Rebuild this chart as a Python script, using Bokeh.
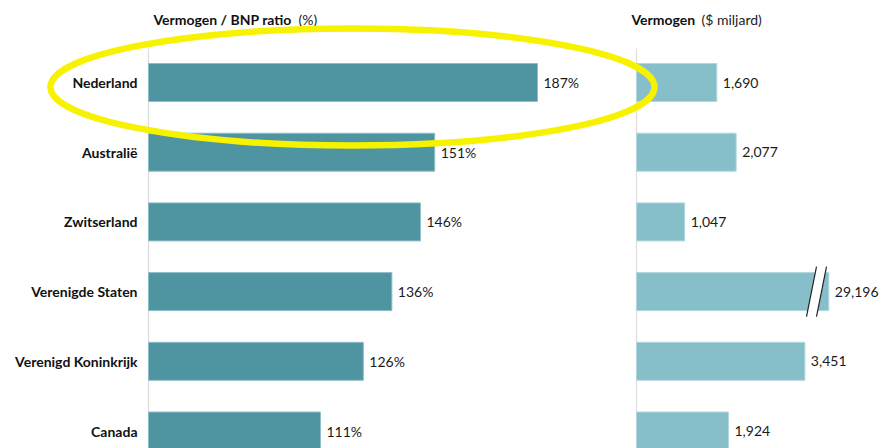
from bokeh.plotting import figure
from bokeh.models import Range1d
from bokeh.core.properties import value
from bokeh.embed import file_html
from bokeh.resources import INLINE

countries = ["Nederland", "Australië", "Zwitserland", "Verenigde Staten",
             "Verenigd Koninkrijk", "Canada"]
ratio = [187, 151, 146, 136, 126, 111]
vermogen = [1690, 2077, 1047, 29196, 3451, 1924]
ratio_labels = [f"{v}%" for v in ratio]
vermogen_labels = [f"{v:,}" for v in vermogen]
VERM_CAP = 3930          # displayed length of the broken (truncated) bar
RATIO_BASE = 50.75       # left panel axis baseline (truncated axis)
VERM_BASE = 84           # right panel axis baseline

idx = list(range(len(countries)))
verm_disp = [min(v, VERM_CAP) for v in vermogen]

FONT = value("Lato")
BAR_H = 0.545

p = figure(width=879, height=448,
           x_range=Range1d(-1.086, 306.8), y_range=Range1d(5.251, -1.1765),
           x_axis_type=None, y_axis_type=None,
           toolbar_location=None, output_backend="svg",
           min_border=0, outline_line_color=None,
           background_fill_color="white", border_fill_color="white")
p.extra_x_ranges = {"verm": Range1d(-12636, 4944)}
p.grid.visible = False

# axis lines
p.segment(x0=[RATIO_BASE], y0=[-0.488], x1=[RATIO_BASE], y1=[5.3],
          line_color="#dcdcdc", line_width=1.2)
p.segment(x0=[VERM_BASE], y0=[-0.488], x1=[VERM_BASE], y1=[5.3],
          line_color="#dcdcdc", line_width=1.2, x_range_name="verm")

# bars
p.hbar(y=idx, left=RATIO_BASE, right=ratio, height=BAR_H,
       fill_color="#4e94a1", line_color="#8fbec7", line_width=1)
p.hbar(y=idx, left=VERM_BASE, right=verm_disp, height=BAR_H,
       fill_color="#86bfca", line_color="#b2d7de", line_width=1,
       x_range_name="verm")

# break marks on the truncated bar
bi = vermogen.index(max(vermogen))
p.patch(x=[3684, 3884, 3684, 3484], y=[bi - 0.36, bi - 0.36, bi + 0.36, bi + 0.36],
        fill_color="white", line_color=None, x_range_name="verm")
p.segment(x0=[3684, 3884], y0=[bi - 0.36, bi - 0.36],
          x1=[3484, 3684], y1=[bi + 0.36, bi + 0.36],
          line_color="#222222", line_width=1.2, x_range_name="verm")

# value labels
p.text(x=ratio, y=idx, text=ratio_labels, x_offset=6, text_baseline="middle",
       text_font=FONT, text_font_size="14px", text_color="#1a1a1a")
p.text(x=verm_disp, y=idx, text=vermogen_labels, x_offset=6, text_baseline="middle",
       text_font=FONT, text_font_size="14px", text_color="#1a1a1a",
       x_range_name="verm")

# category labels
p.text(x=[46.9] * len(idx), y=idx, text=countries, text_align="right",
       text_baseline="middle", text_font=FONT, text_font_size="14px",
       text_font_style="bold", text_color="#111111")

# panel titles
TY = -0.904
p.text(x=[52.5], y=[TY], text=["Vermogen / BNP ratio"], text_baseline="middle",
       text_font=FONT, text_font_size="14px", text_font_style="bold",
       text_color="#111111")
p.text(x=[52.5], y=[TY], text=["(%)"], x_offset=145, text_baseline="middle",
       text_font=FONT, text_font_size="14px", text_color="#222222")
p.text(x=[-16], y=[TY], text=["Vermogen"], text_baseline="middle",
       text_font=FONT, text_font_size="14px", text_font_style="bold",
       text_color="#111111", x_range_name="verm")
p.text(x=[-16], y=[TY], text=["($ miljard)"], x_offset=70, text_baseline="middle",
       text_font=FONT, text_font_size="14px", text_color="#222222",
       x_range_name="verm")

# highlight ellipse
p.ellipse(x=[122.2], y=[0.065], width=604, height=117,
          width_units="screen", height_units="screen",
          fill_color=None, line_color="#f7f200", line_width=6.5)

open("out.html", "w").write(file_html(p, INLINE))
